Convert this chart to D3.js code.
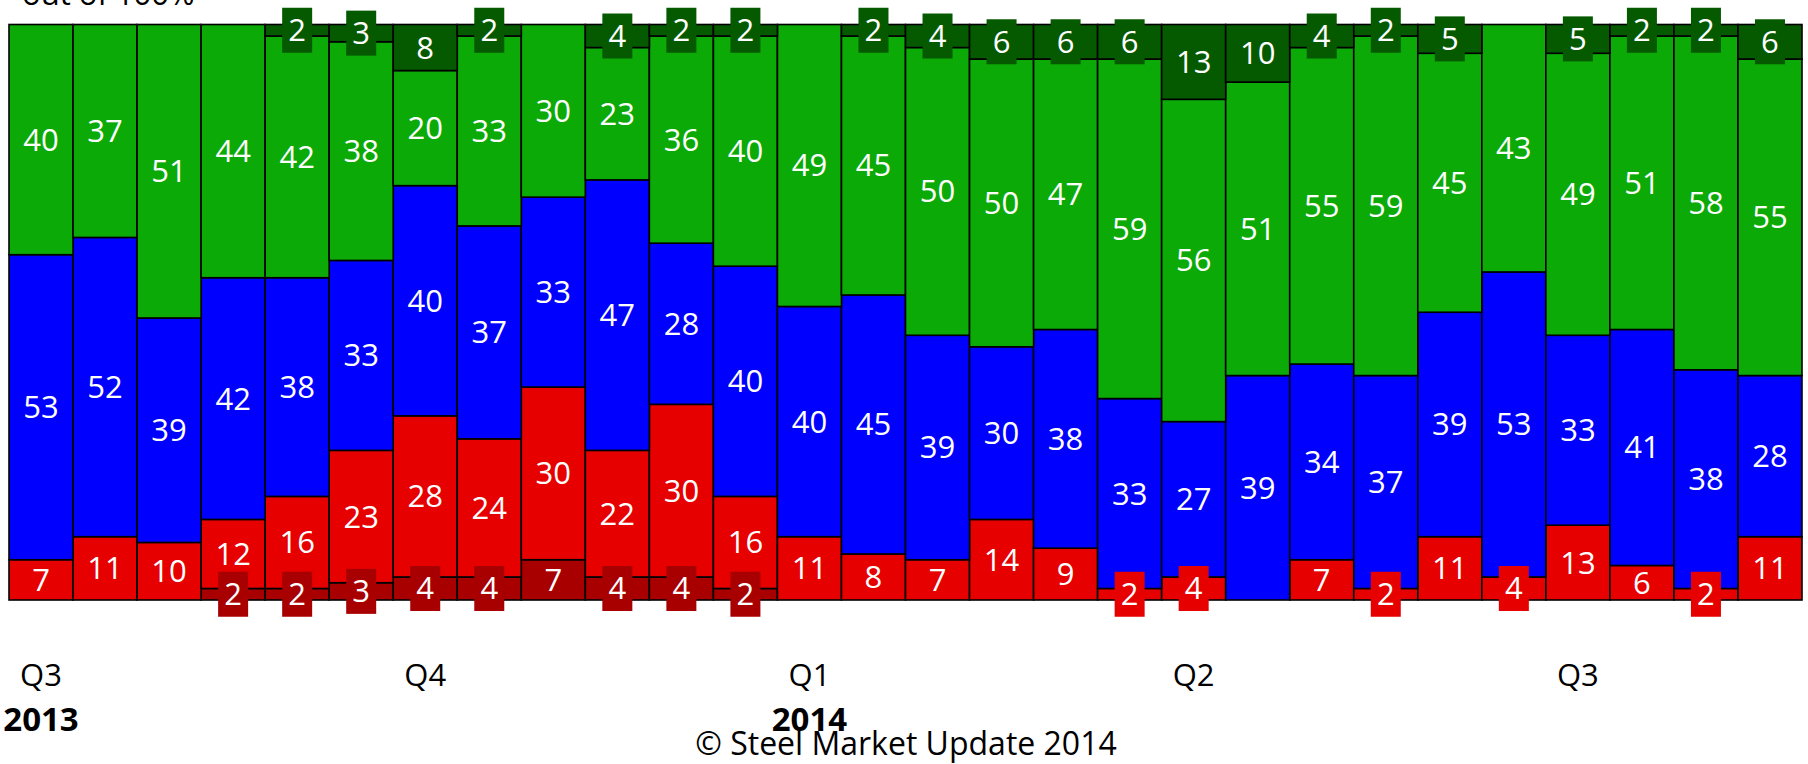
<!DOCTYPE HTML>
<html>
<head>
<meta charset="utf-8">
<title>Steel Market Update survey</title>
<script src="https://d3js.org/d3.v7.min.js"></script>
<style>
	body { margin: 0; background: #fff; }
	svg { display: block; font-family: "Open Sans", sans-serif; }
	.seg { stroke: #000; stroke-width: 1.6; }
	.lbl { fill: #fff; font-size: 31px; text-anchor: middle; }
	.tick { fill: #000; font-size: 31px; text-anchor: middle; }
	.year { fill: #000; font-size: 33px; font-weight: bold; text-anchor: middle; }
	.note { fill: #000; font-size: 31px; }
</style>
</head>
<body>
<svg width="1808" height="764"></svg>
<script>
	// 28 survey periods, Q3 2013 - Q3 2014
	var periods = d3.range(1, 29);
	var quarterLabels = ["Q3","","","","","","Q4","","","","","","Q1","","","","","","Q2","","","","","","Q3","","",""];
	var yearLabels = ["2013","","","","","","","","","","","","2014","","","","","","","","","","","","","","",""];

	// series, bottom to top
	var muchLower  = [0,0,0,2,2,3,4,4,7,4,4,2,0,0,0,0,0,0,0,0,0,0,0,0,0,0,0,0];
	var lower      = [7,11,10,12,16,23,28,24,30,22,30,16,11,8,7,14,9,2,4,0,7,2,11,4,13,6,2,11];
	var same       = [53,52,39,42,38,33,40,37,33,47,28,40,40,45,39,30,38,33,27,39,34,37,39,53,33,41,38,28];
	var higher     = [40,37,51,44,42,38,20,33,30,23,36,40,49,45,50,50,47,59,56,51,55,59,45,43,49,51,58,55];
	var muchHigher = [0,0,0,0,2,3,8,2,0,4,2,2,0,2,4,6,6,6,13,10,4,2,5,0,5,2,2,6];

	var seriesNames = ["muchLower", "lower", "same", "higher", "muchHigher"];
	var seriesColors = ["#a80000", "#e60000", "#0000ff", "#0baa06", "#055a00"];
	var seriesValues = [muchLower, lower, same, higher, muchHigher];

	var svg = d3.select("svg");

	// build table for the stack
	var table = periods.map(function(p, i) {
		var row = { period: p };
		seriesNames.forEach(function(s, k) { row[s] = seriesValues[k][i]; });
		return row;
	});
	var stacked = d3.stack().keys(seriesNames)(table);

	var x = d3.scaleBand()
		.domain(periods)
		.range([9, 1802])
		.padding(0);
	var y = d3.scaleLinear()
		.domain([0, 100])
		.range([600, 24.5]);

	var color = d3.scaleOrdinal().domain(seriesNames).range(seriesColors);

	// bars
	var layers = svg.append("g").selectAll("g")
		.data(stacked)
		.enter().append("g")
		.attr("fill", function(d) { return color(d.key); });

	layers.selectAll("rect")
		.data(function(d) { return d.filter(function(e) { return e[1] > e[0]; }); })
		.enter().append("rect")
		.attr("class", "seg")
		.attr("x", function(d) { return x(d.data.period); })
		.attr("width", x.bandwidth())
		.attr("y", function(d) { return y(d[1]); })
		.attr("height", function(d) { return y(d[0]) - y(d[1]); });

	// labels, small ones get a box in the series colour
	var labels = [];
	stacked.forEach(function(layer) {
		layer.forEach(function(d) {
			var v = d[1] - d[0];
			if (v <= 0) return;
			var boxed = v <= 4 || (layer.key == "muchHigher" && v <= 6);
			labels.push({ key: layer.key, period: d.data.period, value: v, mid: (y(d[0]) + y(d[1])) / 2, boxed: boxed });
		});
	});

	var lg = svg.append("g").selectAll("g")
		.data(labels)
		.enter().append("g")
		.attr("transform", function(d) { return "translate(" + (x(d.period) + x.bandwidth() / 2) + "," + d.mid + ")"; });

	lg.filter(function(d) { return d.boxed; })
		.append("rect")
		.attr("x", function(d) { return -(String(d.value).length * 9 + 6); })
		.attr("width", function(d) { return String(d.value).length * 18 + 12; })
		.attr("y", -22.5)
		.attr("height", 45)
		.attr("fill", function(d) { return color(d.key); });

	lg.append("text")
		.attr("class", "lbl")
		.attr("y", 11)
		.text(function(d) { return d.value; });

	// quarter and year labels under the bars
	var axis = svg.append("g");
	axis.selectAll(".tick")
		.data(periods.filter(function(p, i) { return quarterLabels[i] != ""; }))
		.enter().append("text")
		.attr("class", "tick")
		.attr("x", function(p) { return x(p) + x.bandwidth() / 2; })
		.attr("y", 686)
		.text(function(p) { return quarterLabels[p - 1]; });

	axis.selectAll(".year")
		.data(periods.filter(function(p, i) { return yearLabels[i] != ""; }))
		.enter().append("text")
		.attr("class", "year")
		.attr("x", function(p) { return x(p) + x.bandwidth() / 2; })
		.attr("y", 731)
		.text(function(p) { return yearLabels[p - 1]; });

	// title cut off at the top, and copyright
	svg.append("text")
		.attr("class", "note")
		.attr("x", 22)
		.attr("y", 5)
		.text("out of 100%");

	svg.append("text")
		.attr("class", "note")
		.attr("x", 906)
		.attr("y", 755)
		.attr("text-anchor", "middle")
		.style("font-size", "32px")
		.text("© Steel Market Update 2014");
</script>
</body>
</html>
